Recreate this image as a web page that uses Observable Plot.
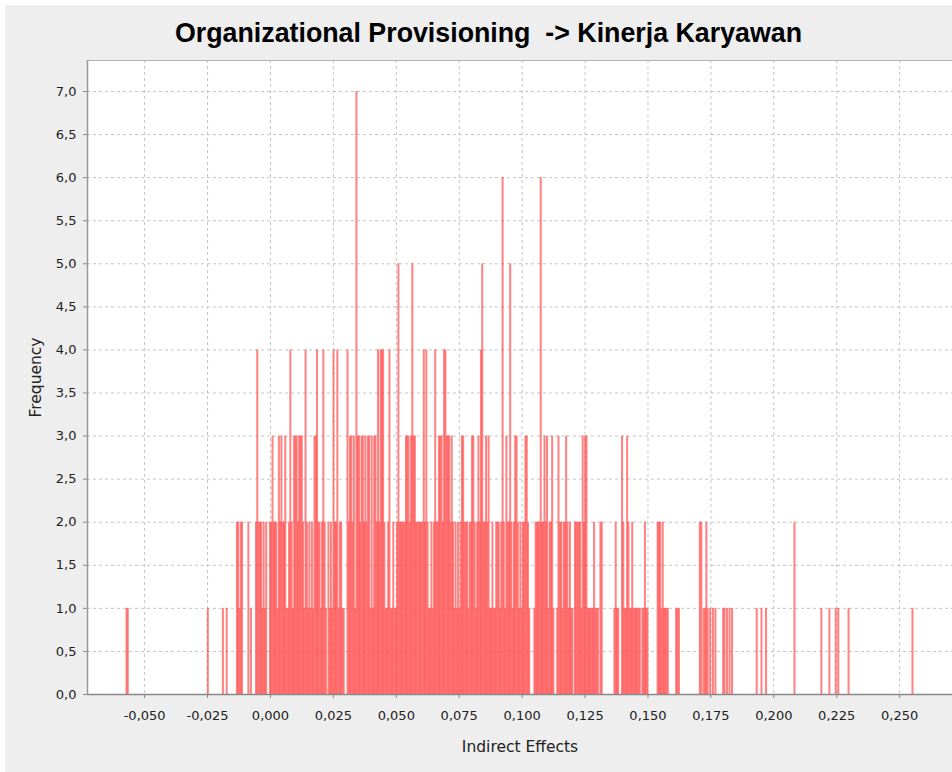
<!DOCTYPE html>
<html>
<head>
<meta charset="utf-8">
<script src="https://cdn.jsdelivr.net/npm/d3@7"></script>
<script src="https://cdn.jsdelivr.net/npm/@observablehq/plot@0.6"></script>
<style>
  html, body { margin: 0; padding: 0; background: #ffffff; width: 952px; height: 772px; overflow: hidden; }
  #panel { position: absolute; left: 5px; top: 5px; width: 947px; height: 767px; background: #eeeeee; }
  #title { position: absolute; left: 0; top: 0; }
  #chart { position: absolute; left: 0; top: 60px; }
</style>
</head>
<body>
<div id="panel"></div>
<svg id="title" width="952" height="60"></svg>
<div id="chart"></div>
<script>
// ---- data ----
const chartTitle = "Organizational Provisioning  -> Kinerja Karyawan";
const xLabel = "Indirect Effects";
const yLabel = "Frequency";

// histogram bins (bin width in effect units)
const binWidth = 0.000505;

// contiguous block of bins starting at this bin center
const denseStart = -0.01514;
const denseFrequencies = [
  0,0,0,0,2,2,1,2,2,0, 0,0,0,2,0,1,0,0,0,2, 4,2,2,2,1,2,1,2,0,0,
  2,2,3,2,2,2,1,3,2,3, 2,2,3,1,1,2,4,2,1,3, 3,3,2,3,3,3,2,1,4,2, 1,2,1,2,1,3,
  3,4,2,2,1,2,4,2,1,0, 2,1,2,1,4,2,2,4,1,2, 2,1,1,0,0,4,2,3,3,2, 3,1,7,3,3,2,3,3,2,3,
  2,3,3,1,3,1,3,3,2,4, 2,4,4,4,2,1,1,2,4,1, 1,2,1,1,2,5,2,2,2,2, 2,
  3,3,3,2,3,5,3,3,2,2, 2,2,2,2,4,2,4,2,1,1, 2,1,2,4,2,2,3,3,3,2, 4,4,3,3,3,2,3,2,1,2,
  1,2,1,2,3,3,2,2,2,1, 2,2,3,3,2,1,2,3,2,4, 5,2,2,3,2,3,1,1,2,1, 1,
  2,2,2,1,2,6,2,1,3,2, 2,5,2,1,2,3,3,2,1,2, 1,2,2,3,3,2,1,0,0,0, 1,2,2,2,2,6,2,2,3,2,
  3,1,2,2,3,1,0,0,1,3, 2,2,1,2,2,3,2,1,2,1, 1,0,2,2,2,2,2,1,3,2, 3,
  3,1,1,1,1,1,2,1,1,1, 0,2,2,0,0,0,0,0,0,0, 0,0,1,2,1,1,0,0,3,2, 1,1,3,2,1,1,2,1,1,1,
  1,1,1,0,1,1,2,1,1,0, 0,0,0,0,0,0,2,2,2,1, 2,1,1,1,1
];

// isolated bins outside the dense block
const sparseEffects = [
  -0.0570, -0.0565, -0.0247, -0.0187, -0.0172,
  0.1614, 0.1619, 0.1625, 0.1708, 0.1714, 0.1723, 0.1729, 0.1734, 0.1739,
  0.1749, 0.1760, 0.1770, 0.1801, 0.1806, 0.1816, 0.1826, 0.1836,
  0.1934, 0.1953, 0.1971, 0.2084, 0.2191, 0.2223, 0.2248, 0.2258, 0.2299, 0.2553
];
const sparseFrequencies = [
  1, 1, 1, 1, 1,
  1, 1, 1, 2, 2, 1, 1, 2, 1,
  1, 1, 1, 1, 1, 1, 1, 1,
  1, 1, 1, 2, 1, 1, 1, 1, 1, 1
];

const xTicks = [-0.05, -0.025, 0, 0.025, 0.05, 0.075, 0.1, 0.125, 0.15, 0.175, 0.2, 0.225, 0.25];
const yTicks = [0, 0.5, 1, 1.5, 2, 2.5, 3, 3.5, 4, 4.5, 5, 5.5, 6, 6.5, 7];

// ---- title ----
const t = document.createElementNS("http://www.w3.org/2000/svg", "text");
t.setAttribute("x", 488.5);
t.setAttribute("y", 42);
t.setAttribute("text-anchor", "middle");
t.setAttribute("font-family", "Liberation Sans, Arial, sans-serif");
t.setAttribute("font-weight", "bold");
t.setAttribute("font-size", "28");
t.setAttribute("textLength", "627");
t.setAttribute("lengthAdjust", "spacingAndGlyphs");
t.setAttribute("style", "white-space: pre");
t.setAttribute("fill", "#000");
t.textContent = chartTitle;
document.getElementById("title").appendChild(t);

// ---- build table ----
const bins = [];
denseFrequencies.forEach((f, i) => { if (f > 0) bins.push({effect: denseStart + i * binWidth, freq: f}); });
sparseEffects.forEach((e, i) => bins.push({effect: e, freq: sparseFrequencies[i]}));

const fmtX = d => d.toFixed(3).replace(".", ",");
const fmtY = d => d.toFixed(1).replace(".", ",");

const chart = Plot.plot({
  width: 952,
  height: 712,
  marginLeft: 87,
  marginRight: 0,
  marginTop: 0,
  marginBottom: 78,
  style: {background: "transparent", fontFamily: "DejaVu Sans, sans-serif", fontSize: "13px", color: "#222"},
  x: {domain: [-0.0727, 0.2710]},
  y: {domain: [0, 7.36]},
  marks: [
    Plot.frame({fill: "#ffffff", stroke: "none"}),
    Plot.gridX(xTicks, {stroke: "#c4c4c4", strokeOpacity: 1, strokeDasharray: "3,3"}),
    Plot.gridY(yTicks, {stroke: "#c4c4c4", strokeOpacity: 1, strokeDasharray: "3,3"}),
    Plot.rect(bins, {
      x1: d => d.effect - binWidth * 0.8,
      x2: d => d.effect + binWidth * 0.8,
      y1: d => 0,
      y2: "freq",
      fill: "#ff4f4f",
      fillOpacity: 0.7
    }),
    Plot.frame({stroke: "#b0b0b0"}),
    Plot.axisX(xTicks, {
      tickFormat: fmtX, tickSize: 4, tickPadding: 12, stroke: "#888",
      fontSize: 13, label: null
    }),
    Plot.axisY(yTicks, {
      tickFormat: fmtY, tickSize: 4, tickPadding: 7, stroke: "#888",
      fontSize: 13, label: null
    }),
    Plot.axisX({
      ticks: [], tickSize: 0, label: xLabel, labelAnchor: "center", labelOffset: 57,
      labelArrow: "none", fontSize: 15.5
    }),
    Plot.axisY({
      ticks: [], tickSize: 0, label: yLabel, labelAnchor: "center", labelOffset: 58,
      labelArrow: "none", fontSize: 15.5
    }),
    Plot.ruleY([0], {stroke: "#888", strokeWidth: 1.5}),
    Plot.ruleX([-0.0727], {stroke: "#999", strokeWidth: 1.5})
  ]
});
document.getElementById("chart").appendChild(chart);
</script>
</body>
</html>
